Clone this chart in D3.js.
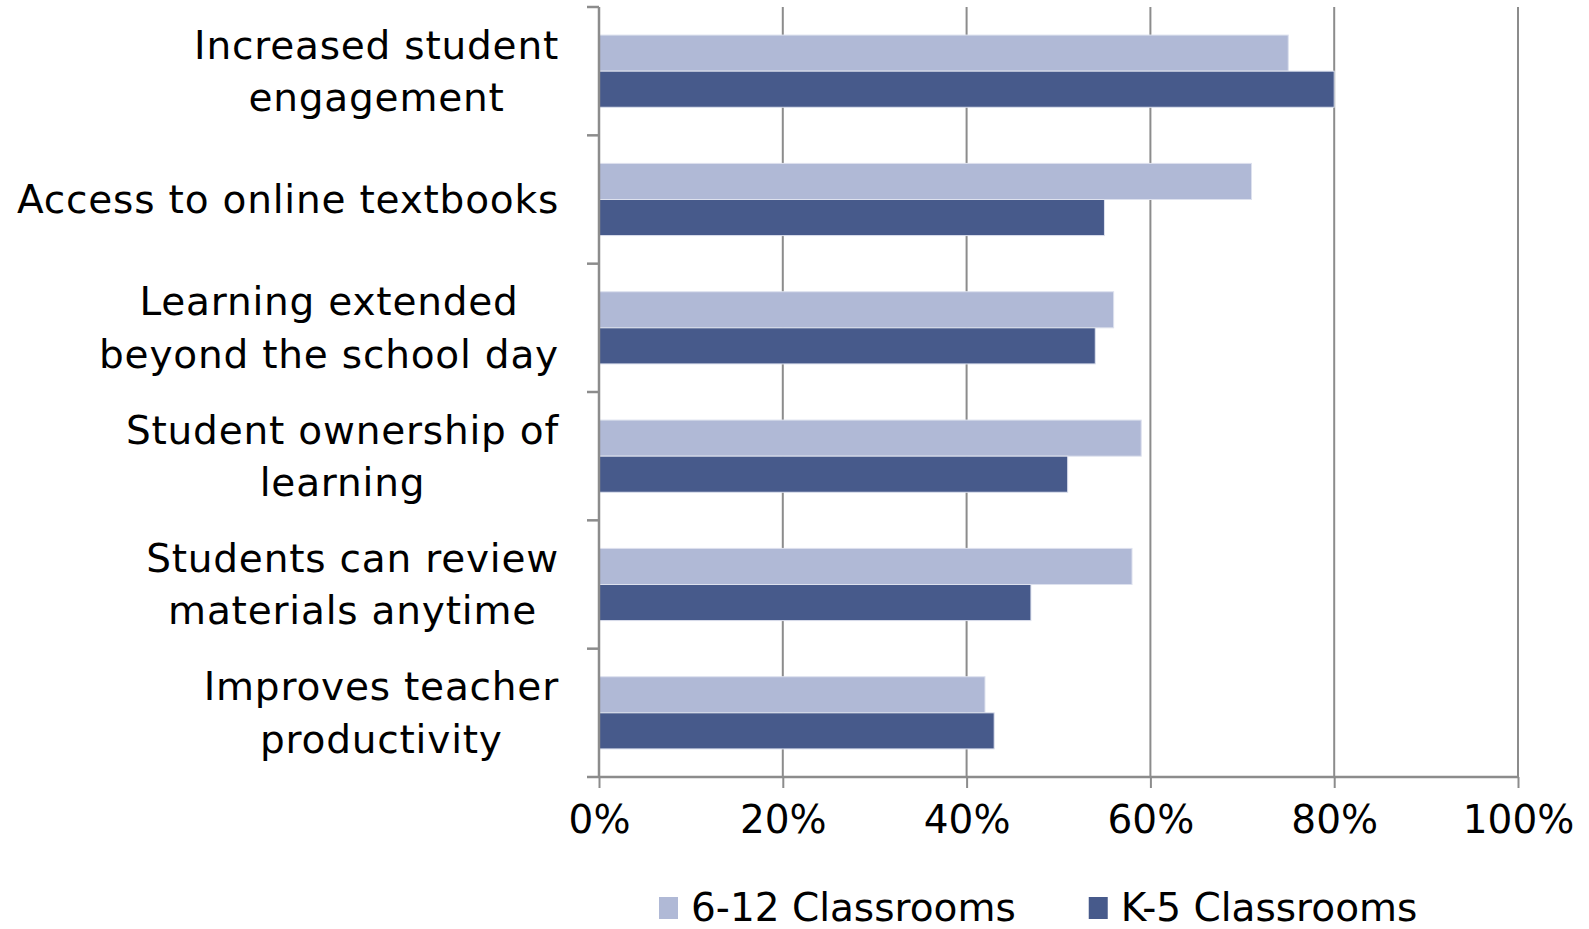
<!DOCTYPE html>
<html>
<head>
<meta charset="utf-8">
<script src="https://cdn.jsdelivr.net/npm/d3@7"></script>
<style>
  body { margin: 0; background: #fff; }
  text { font-family: "DejaVu Sans", sans-serif; fill: #000; }
  .cat-label { letter-spacing: 0.8px; }
</style>
</head>
<body>
<svg id="chart" width="1589" height="929"></svg>
<script>
// Chart data
const categories = [
  ["Increased student", "engagement"],
  ["Access to online textbooks"],
  ["Learning extended", "beyond the school day"],
  ["Student ownership of", "learning"],
  ["Students can review", "materials anytime"],
  ["Improves teacher", "productivity"]
];
const series = ["6-12 Classrooms", "K-5 Classrooms"];
const grades612 = [75, 71, 56, 59, 58, 42];
const gradesK5 = [80, 55, 54, 51, 47, 43];
const xTicks = [0, 20, 40, 60, 80, 100];

const colors = ["#b0b9d6", "#475a8b"];
const fontSize = 39;

const svg = d3.select("#chart");
const margin = { top: 7, left: 599, right: 71, bottom: 152 };
const width = 1589 - margin.left - margin.right;
const height = 929 - margin.top - margin.bottom;

const g = svg.append("g").attr("transform", `translate(${margin.left},${margin.top})`);

const x = d3.scaleLinear().domain([0, 100]).range([0, width]);
const y = d3.scaleBand().domain(d3.range(categories.length)).range([0, height]).paddingInner(0.4375).paddingOuter(0.21875);
const ySub = d3.scaleBand().domain([0, 1]).range([0, y.bandwidth()]);

// Gridlines
g.selectAll(".grid").data(xTicks.slice(1))
  .enter().append("line")
  .attr("x1", d => x(d)).attr("x2", d => x(d))
  .attr("y1", 0).attr("y2", height)
  .attr("stroke", "#8c8c8c").attr("stroke-width", 2);

// Bars
const rows = categories.map((c, i) => [grades612[i], gradesK5[i]]);
const grp = g.selectAll(".cat").data(rows).enter().append("g")
  .attr("transform", (d, i) => `translate(0,${y(i)})`);
grp.selectAll("rect").data(d => d).enter().append("rect")
  .attr("x", 0)
  .attr("y", (d, j) => ySub(j))
  .attr("width", d => x(d))
  .attr("height", ySub.bandwidth())
  .attr("fill", (d, j) => colors[j])
  .attr("stroke", "#dde1ee").attr("stroke-width", 1);

// X axis
const xAxis = g.append("g").attr("transform", `translate(0,${height})`)
  .call(d3.axisBottom(x).tickValues(xTicks).tickFormat(d => d + "%").tickSize(11).tickPadding(24));
xAxis.select(".domain").attr("stroke", "#8c8c8c").attr("stroke-width", 2.5)
  .attr("d", `M-12,0H${width}`);
xAxis.selectAll(".tick line").attr("stroke", "#8c8c8c").attr("stroke-width", 2);
xAxis.selectAll(".tick text").attr("font-size", fontSize).attr("font-family", null).attr("dy", "0.55em");

// Y axis line + ticks
const yAxis = g.append("g");
yAxis.append("line").attr("x1", 0).attr("x2", 0).attr("y1", 0).attr("y2", height)
  .attr("stroke", "#8c8c8c").attr("stroke-width", 2.5);
yAxis.selectAll(".yt").data(d3.range(categories.length))
  .enter().append("line")
  .attr("x1", -12).attr("x2", 0)
  .attr("y1", i => y(i) - (y.step() - y.bandwidth()) / 2)
  .attr("y2", i => y(i) - (y.step() - y.bandwidth()) / 2)
  .attr("stroke", "#8c8c8c").attr("stroke-width", 2.5);

// Category labels: lines centered, block right-aligned
const lineH = 52.5;
categories.forEach((lines, i) => {
  const cy = y(i) + y.bandwidth() / 2;
  const t = g.append("text").attr("class", "cat-label").attr("font-size", fontSize).attr("text-anchor", "middle");
  lines.forEach((ln, k) => {
    t.append("tspan").attr("x", 0)
      .attr("y", cy + (k - (lines.length - 1) / 2) * lineH)
      .attr("dy", "0.35em").text(ln);
  });
  let maxW = 0;
  t.selectAll("tspan").each(function() { maxW = Math.max(maxW, this.getComputedTextLength()); });
  t.selectAll("tspan").attr("x", -40 - maxW / 2);
});

// Legend
const legend = svg.append("g").attr("transform", "translate(659,907)");
let lx = 0;
series.forEach((s, j) => {
  const item = legend.append("g").attr("transform", `translate(${lx},0)`);
  item.append("rect").attr("x", 0).attr("y", -10).attr("width", 19).attr("height", 22).attr("fill", colors[j]);
  const tx = item.append("text").attr("x", 32).attr("dy", "0.35em").attr("font-size", fontSize).text(s);
  lx += 32 + tx.node().getComputedTextLength() + 73;
});
</script>
</body>
</html>
